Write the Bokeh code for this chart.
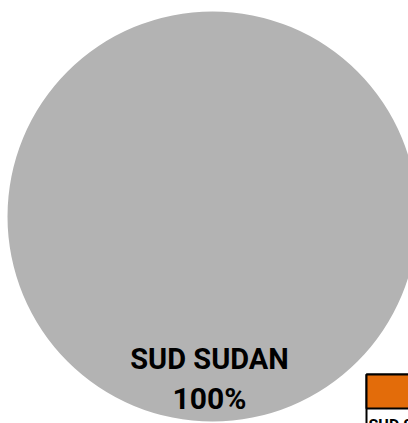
import numpy as np
from bokeh.plotting import figure
from bokeh.models import Range1d, ColumnDataSource
from bokeh.core.properties import value
from bokeh.embed import file_html
from bokeh.resources import INLINE

categories = ["SUD SUDAN"]
values = [100]
colors = ["#B3B3B3"]
legend_colors = ["#E36C0A"]

total = sum(values)
fracs = np.array(values) / total
ends = np.cumsum(fracs) * 2 * np.pi
starts = ends - fracs * 2 * np.pi

src = ColumnDataSource(dict(start=starts, end=ends, color=colors, cat=categories))

p = figure(width=408, height=423, output_backend="svg", toolbar_location=None,
           x_range=Range1d(0, 408), y_range=Range1d(423, 0),
           min_border=0, outline_line_color=None)
p.axis.visible = False
p.grid.visible = False
p.background_fill_color = "white"
p.border_fill_color = "white"

cx, cy, r = 212, 216, 205
p.wedge(x=cx, y=cy, radius=r, start_angle="start", end_angle="end",
        fill_color="color", line_color=None, source=src)

font = value("Roboto")
p.text(x=[209], y=[358], text=[categories[0]], text_font=font, text_font_size="29px",
       text_font_style="bold", text_align="center", text_baseline="alphabetic", text_color="black")
p.text(x=[209], y=[398], text=[f"{round(fracs[0]*100)}%"], text_font=font, text_font_size="30px",
       text_font_style="bold", text_align="center", text_baseline="alphabetic", text_color="black")

# clipped legend box at bottom right
p.quad(left=[366], right=[420], top=[374], bottom=[440], fill_color="white",
       line_color="black", line_width=2)
p.quad(left=[366], right=[420], top=[374], bottom=[408], fill_color=legend_colors,
       line_color="black", line_width=2)
p.text(x=[368], y=[425], text=[categories[0]], text_font=font, text_font_size="16px",
       text_font_style="bold", text_align="left", text_baseline="alphabetic", text_color="black")

open("out.html", "w").write(file_html(p, INLINE))
